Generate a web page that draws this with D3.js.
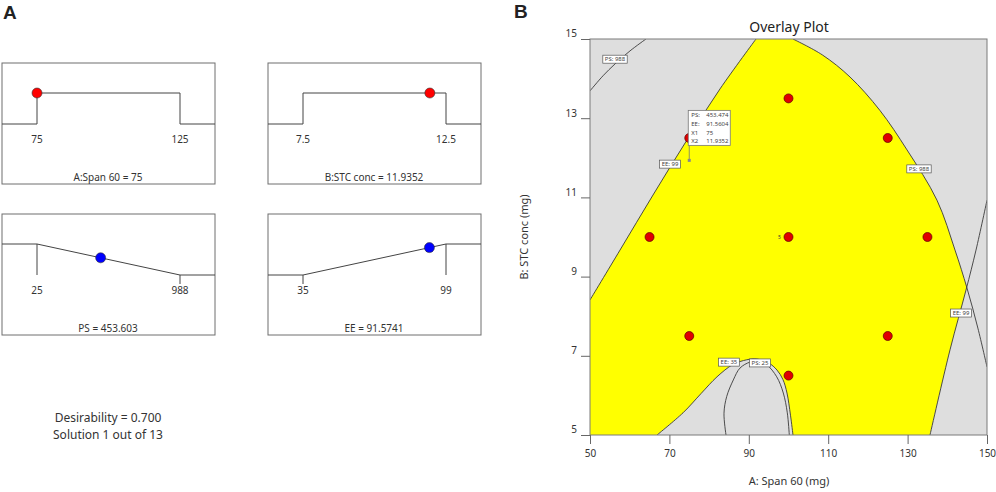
<!DOCTYPE html>
<html>
<head>
<meta charset="utf-8">
<script src="https://cdn.jsdelivr.net/npm/d3@7"></script>
<style>
  body { margin: 0; background: #fff; }
  text { font-family: "Noto Sans", "DejaVu Sans", sans-serif; fill: #333; }
</style>
</head>
<body>
<svg id="chart" width="996" height="492"></svg>
<script>
// ---- panel A : desirability ramps ----
const rampNames = ["A:Span 60", "B:STC conc", "PS", "EE"];
const rampGoals = ["range", "range", "minimize", "maximize"];
const rampLow = [75, 7.5, 25, 35];
const rampHigh = [125, 12.5, 988, 99];
const rampValue = [75, 11.9352, 453.603, 91.5741];
const rampTickLabels = [["75", "125"], ["7.5", "12.5"], ["25", "988"], ["35", "99"]];
const desirability = "0.700";
const solutionNo = 1, solutionCount = 13;

// ---- panel B : overlay plot ----
const xTicks = [50, 70, 90, 110, 130, 150];
const yTicks = [5, 7, 9, 11, 13, 15];
// design points (A, B)
const designA = [75, 65, 100, 125, 100, 135, 75, 125, 100];
const designB = [12.5, 10, 13.5, 12.5, 10, 10, 7.5, 7.5, 6.5];
const centerReps = "5";

// contour lines, [A, B]
const ee99Left = [[50, 8.41], [57.56, 9.67], [65.87, 11.06], [74.43, 12.45], [82.75, 13.74], [91.81, 15]];
const ps988Left = [[50, 13.69], [53.27, 14.07], [56.3, 14.37], [60.08, 14.70], [64.1, 15]];
const ps988Right = [[101.13, 15], [108.5, 14.6], [115.5, 14.04], [123, 13.2], [129.85, 12.2], [137.4, 10.93],
                    [141.94, 9.67], [144.96, 8.71], [147.7, 7.7], [150, 6.72]];
const ee99Right = [[150, 10.93], [147.23, 9.67], [144.71, 8.66], [140.68, 7.15], [135.64, 5]];
const ee35 = [[66.88, 5], [73.43, 5.56], [78, 6.05], [82, 6.47], [86, 6.78], [89.5, 6.9], [92, 6.92],
              [95, 6.82], [97.1, 6.64], [98.6, 6.4], [99.62, 6.06], [100.5, 5.5], [101.13, 5]];
const ps25 = [[84.26, 5], [83.75, 5.55], [84.43, 5.97], [86.1, 6.39], [87.78, 6.69], [90.3, 6.84], [92.07, 6.85],
              [94.51, 6.77], [97.03, 6.47], [98.69, 6.06], [99.7, 5.56], [100.2, 5]];

const contourLabels = ["PS: 988", "EE: 99", "PS: 988", "EE: 99", "EE: 35", "PS: 25"];
const labelA = [56.3, 70.15, 132.87, 143.45, 85.0, 92.82];
const labelB = [14.49, 11.84, 11.72, 8.08, 6.84, 6.82];

// flag at the chosen solution
const flagNames = ["PS:", "EE:", "X1", "X2"];
const flagValues = ["453.474", "91.5604", "75", "11.9352"];
const flagA = 75, flagB = 11.9352;

const svg = d3.select("#chart");

// panel letters
svg.append("text").attr("x", 3).attr("y", 19).text("A")
  .style("font-family", "Liberation Sans, Arial, sans-serif").style("font-weight", "bold")
  .style("font-size", "19px").style("fill", "#222");
svg.append("text").attr("x", 514).attr("y", 18).text("B")
  .style("font-family", "Liberation Sans, Arial, sans-serif").style("font-weight", "bold")
  .style("font-size", "19px").style("fill", "#222");

// ---------- ramps ----------
const boxX = [2, 268, 2, 268], boxY = [63, 63, 214, 214];
const boxW = 213, boxH = 121;

rampNames.forEach((name, i) => {
  const g = svg.append("g").attr("transform", `translate(${boxX[i]},${boxY[i]})`);
  const xs = d3.scaleLinear().domain([rampLow[i], rampHigh[i]]).range([35, 178]);
  const lv = d3.scaleLinear().domain([0, 1]).range([61, 30]);
  const lo = xs(rampLow[i]), hi = xs(rampHigh[i]);
  let pts, dval;
  if (rampGoals[i] == "range") {
    pts = [[0, lv(0)], [lo, lv(0)], [lo, lv(1)], [hi, lv(1)], [hi, lv(0)], [boxW, lv(0)]];
    dval = 1;
  } else if (rampGoals[i] == "minimize") {
    pts = [[0, lv(1)], [lo, lv(1)], [hi, lv(0)], [boxW, lv(0)]];
    dval = (rampHigh[i] - rampValue[i]) / (rampHigh[i] - rampLow[i]);
    g.append("line").attr("x1", lo).attr("x2", lo).attr("y1", lv(1)).attr("y2", lv(0)).attr("stroke", "#444");
    g.append("line").attr("x1", hi).attr("x2", hi).attr("y1", lv(0)).attr("y2", lv(0) + 9).attr("stroke", "#444");
  } else {
    pts = [[0, lv(0)], [lo, lv(0)], [hi, lv(1)], [boxW, lv(1)]];
    dval = (rampValue[i] - rampLow[i]) / (rampHigh[i] - rampLow[i]);
    g.append("line").attr("x1", lo).attr("x2", lo).attr("y1", lv(0)).attr("y2", lv(0) + 9).attr("stroke", "#444");
    g.append("line").attr("x1", hi).attr("x2", hi).attr("y1", lv(1)).attr("y2", lv(0)).attr("stroke", "#444");
  }
  g.append("rect").attr("width", boxW).attr("height", boxH)
    .attr("fill", "none").attr("stroke", "#6e6e6e").attr("stroke-width", 1);
  g.append("path").attr("d", d3.line()(pts)).attr("fill", "none").attr("stroke", "#444").attr("stroke-width", 1);
  g.append("circle").attr("cx", xs(rampValue[i])).attr("cy", lv(dval)).attr("r", 5)
    .attr("fill", i < 2 ? "#ff0000" : "#0000ff").attr("stroke", "#333").attr("stroke-width", 0.6);
  [lo, hi].forEach((px, k) => {
    g.append("text").attr("x", px).attr("y", 80).attr("text-anchor", "middle")
      .style("font-size", "10px").text(rampTickLabels[i][k]);
  });
  g.append("text").attr("x", 106).attr("y", 118).attr("text-anchor", "middle")
    .style("font-size", "10px").text(`${name} = ${rampValue[i]}`);
});

svg.append("text").attr("x", 108).attr("y", 422).attr("text-anchor", "middle")
  .style("font-size", "12px").text(`Desirability = ${desirability}`);
svg.append("text").attr("x", 108).attr("y", 439).attr("text-anchor", "middle")
  .style("font-size", "12px").text(`Solution ${solutionNo} out of ${solutionCount}`);

// ---------- overlay plot ----------
const x = d3.scaleLinear().domain([50, 150]).range([590, 987]);
const y = d3.scaleLinear().domain([5, 15]).range([435, 39]);
const line = d3.line().x(d => x(d[0])).y(d => y(d[1])).curve(d3.curveCatmullRom);
const corners = pts => pts.map(p => `L${x(p[0])},${y(p[1])}`).join("") + "Z";

svg.append("clipPath").attr("id", "plotclip").append("rect")
  .attr("x", x(50)).attr("y", y(15)).attr("width", x(150) - x(50)).attr("height", y(5) - y(15));

const plot = svg.append("g").attr("clip-path", "url(#plotclip)");
const gray = "#dedede";

plot.append("rect").attr("x", x(50)).attr("y", y(15)).attr("width", x(150) - x(50))
  .attr("height", y(5) - y(15)).attr("fill", "#ffff00");

// gray where a constraint is broken
plot.append("path").attr("d", line(ee99Left) + corners([[50, 15]])).attr("fill", gray);
plot.append("path").attr("d", line(ps988Right) + corners([[150, 15]])).attr("fill", gray);
plot.append("path").attr("d", line(ee99Right) + corners([[150, 5]])).attr("fill", gray);
plot.append("path").attr("d", line(ee35) + "Z").attr("fill", gray);
plot.append("path").attr("d", line(ps25) + "Z").attr("fill", gray);

[ee99Left, ps988Left, ps988Right, ee99Right, ee35, ps25].forEach(c => {
  plot.append("path").attr("d", line(c)).attr("fill", "none").attr("stroke", "#3a3a3a").attr("stroke-width", 0.9);
});

// contour labels
contourLabels.forEach((t, i) => {
  const lg = plot.append("g").attr("transform", `translate(${x(labelA[i])},${y(labelB[i])})`);
  const txt = lg.append("text").attr("text-anchor", "middle").attr("dy", "0.35em")
    .style("font-size", "6px").style("fill", "#444").text(t);
  const w = txt.node().getComputedTextLength() + 4;
  lg.insert("rect", "text").attr("x", -w / 2).attr("y", -4).attr("width", w).attr("height", 8)
    .attr("fill", "#fff").attr("stroke", "#555").attr("stroke-width", 0.7);
});

// design points
plot.selectAll(".pt").data(designA).enter().append("circle").attr("class", "pt")
  .attr("cx", (d, i) => x(d)).attr("cy", (d, i) => y(designB[i])).attr("r", 4.5)
  .attr("fill", "#e00000").attr("stroke", "#5a0000").attr("stroke-width", 0.7);
plot.append("text").attr("x", x(100) - 9).attr("y", y(10)).attr("dy", "0.35em")
  .attr("text-anchor", "middle").style("font-size", "5px").text(centerReps);

// flag
const fx = x(flagA), fy = y(flagB);
const fg = svg.append("g").attr("transform", `translate(${fx},${fy})`);
fg.append("line").attr("x1", 0).attr("x2", 0).attr("y1", 0).attr("y2", -15).attr("stroke", "#777").attr("stroke-width", 0.8);
fg.append("rect").attr("x", -1.5).attr("y", -1.5).attr("width", 3).attr("height", 3).attr("fill", "#888");
fg.append("rect").attr("x", -1).attr("y", -50).attr("width", 42).attr("height", 35)
  .attr("fill", "#fff").attr("stroke", "#777").attr("stroke-width", 0.8);
flagNames.forEach((n, i) => {
  fg.append("text").attr("x", 2).attr("y", -45 + i * 8.6).attr("dy", "0.35em")
    .style("font-size", "6px").style("fill", "#444").text(n);
  fg.append("text").attr("x", 17).attr("y", -45 + i * 8.6).attr("dy", "0.35em")
    .style("font-size", "6px").style("fill", "#444").text(flagValues[i]);
});

// frame and axes
svg.append("rect").attr("x", x(50)).attr("y", y(15)).attr("width", x(150) - x(50))
  .attr("height", y(5) - y(15)).attr("fill", "none").attr("stroke", "#7a7a7a").attr("stroke-width", 1);

const xAxis = svg.append("g").attr("transform", `translate(0,${y(5)})`)
  .call(d3.axisBottom(x).tickValues(xTicks).tickSize(9).tickPadding(6));
const yAxis = svg.append("g").attr("transform", `translate(${x(50)},0)`)
  .call(d3.axisLeft(y).tickValues(yTicks).tickSize(9).tickPadding(4));
[xAxis, yAxis].forEach(a => {
  a.select(".domain").remove();
  a.selectAll("line").attr("stroke", "#666");
  a.selectAll("text").style("font-size", "10px").style("font-family", "Noto Sans, sans-serif").attr("fill", "#333");
});
yAxis.selectAll("text").attr("dy", "-0.22em");

svg.append("text").attr("x", 789).attr("y", 32).attr("text-anchor", "middle")
  .style("font-size", "14px").style("fill", "#222").text("Overlay Plot");
svg.append("text").attr("x", 789).attr("y", 485).attr("text-anchor", "middle")
  .style("font-size", "11px").text("A: Span 60 (mg)");
svg.append("text").attr("transform", "translate(528,237) rotate(-90)").attr("text-anchor", "middle")
  .style("font-size", "11px").text("B: STC conc (mg)");
</script>
</body>
</html>
